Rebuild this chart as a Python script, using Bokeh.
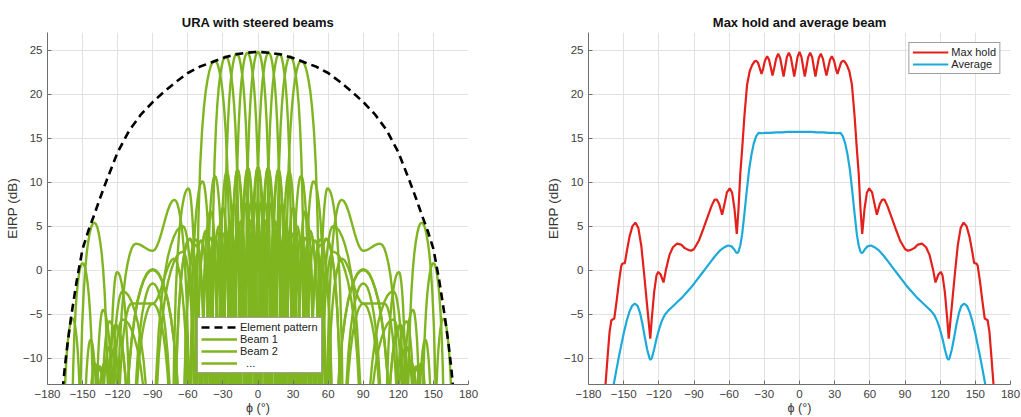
from bokeh.plotting import figure
from bokeh.layouts import row
from bokeh.models import Range1d, FixedTicker, Legend, LegendItem
from bokeh.embed import file_html
from bokeh.resources import INLINE

# ---------------- axes ----------------
X_TICKS = [-180, -150, -120, -90, -60, -30, 0, 30, 60, 90, 120, 150, 180]
Y_TICKS = [-10, -5, 0, 5, 10, 15, 20, 25]

# ---------------- left panel: element pattern (dB) ----------------
ELEM_PHI = [-168, -167, -165, -163, -160, -155, -150, -145, -140, -135, -130, -120, -110, -100,
            -90, -80, -70, -60, -50, -40, -30, -20, -10, 0, 10, 20, 30, 40, 50, 60, 70, 80, 90,
            100, 110, 120, 130, 135, 140, 145, 150, 155, 160, 163, 165, 167, 168]
ELEM_DB = [-15.0, -13.5, -10.8, -8.5, -5.5, -1.2, 2.4, 4.5, 6.3, 8.2, 10.0, 13.4, 15.9, 17.7,
           19.1, 20.3, 21.4, 22.4, 23.1, 23.6, 24.1, 24.5, 24.7, 24.8, 24.7, 24.5, 24.1, 23.6, 23.1,
           22.4, 21.4, 20.3, 19.1, 17.7, 15.9, 13.4, 10.0, 8.2, 6.3, 4.5, 2.4, -1.2, -5.5, -8.5,
           -10.8, -13.5, -15.0]

# ---------------- left panel: steered beams ----------------
# each lobe: (left null phi, peak phi, peak dB, right null phi[, dB at left end, dB at right end])
BEAM_STEER = [-37.0, -27.6, -18.2, -9.1, 0.0, 9.1, 18.2, 27.6, 37.0]
BEAM_0 = [
    (-143.1, -135.6, -11.2, -126.9), (-126.9, -115.8, -5.6, -90.0), (-90.0, -64.2, 2.1, -53.1),
    (-53.1, -44.4, 4.5, -36.9), (-36.9, -30.0, 7.1, -23.6), (-23.6, -17.5, 11.4, -10.6),
    (-10.6, 0.0, 24.8, 10.6), (10.6, 17.5, 11.4, 23.6), (23.6, 30.0, 7.1, 36.9),
    (36.9, 44.4, 4.5, 53.1), (53.1, 64.2, 2.1, 90.0), (90.0, 115.8, -5.6, 126.9),
    (126.9, 135.6, -11.2, 143.1),
]
BEAM_9 = [
    (-139.5, -131.4, -10.6, -121.8), (-121.8, -108.2, -3.8, -90.0, None, -3.8),
    (-90.0, -71.8, 1.3, -58.2, -3.8, None), (-58.2, -48.6, 3.4, -40.5), (-40.5, -33.4, 5.0, -26.7),
    (-26.7, -20.5, 7.5, -14.5), (-14.5, -8.6, 11.6, -1.8), (-1.8, 9.1, 24.7, 19.6),
    (19.6, 26.7, 11.2, 33.4), (33.4, 40.5, 6.7, 48.6), (48.6, 58.2, 3.6, 71.8),
    (71.8, 90.0, -3.8, 108.2), (108.2, 121.8, -6.4, 131.4), (131.4, 139.5, -10.6, 146.6),
]
BEAM_18 = [
    (-135.6, -126.9, -8.7, -115.8), (-115.8, -90.0, 0.1, -64.2), (-64.2, -53.1, 2.9, -44.4),
    (-44.4, -36.9, 3.8, -30.0), (-30.0, -23.6, 5.3, -17.5), (-17.5, -11.5, 7.6, -5.7),
    (-5.7, 0.0, 11.7, 7.0), (7.0, 18.2, 24.6, 29.0), (29.0, 36.9, 10.7, 44.4),
    (44.4, 53.1, 3.5, 64.2), (64.2, 90.0, 0.0, 115.8), (115.8, 126.9, -5.8, 135.6),
    (135.6, 143.1, -7.9, 150.0), (150.0, 158.5, -5.5, 168.0),
]
BEAM_28 = [
    (-131.4, -121.8, -6.2, -108.2), (-108.2, -90.0, -1.5, -71.8), (-71.8, -58.2, 3.5, -48.6),
    (-48.6, -40.5, 3.7, -33.4), (-33.4, -26.7, 4.3, -20.5), (-20.5, -14.5, 5.6, -8.6),
    (-8.6, -2.9, 7.7, 2.9), (2.9, 8.6, 11.6, 15.8), (15.8, 27.6, 24.3, 39.5),
    (39.5, 47.5, 10.1, 58.2), (58.2, 71.5, 8.0, 90.0, None, 2.2),
    (90.0, 104.5, 3.0, 121.8, 2.2, None), (121.8, 132.5, -4.5, 139.5), (139.5, 150.0, 0.8, 160.0),
]
BEAM_37 = [
    (-143.1, -135.6, -10.9, -126.9), (-126.9, -115.8, -2.4, -90.0), (-90.0, -64.2, 5.0, -53.1),
    (-53.1, -44.4, 4.4, -36.9), (-36.9, -30.0, 4.2, -23.6), (-23.6, -17.5, 4.6, -11.5),
    (-11.5, -5.7, 5.7, 0.0), (0.0, 5.7, 7.7, 11.5), (11.5, 17.5, 11.4, 23.6),
    (23.6, 37.0, 23.8, 52.5), (52.5, 59.5, 9.3, 73.0), (108.0, 120.5, -0.2, 127.3),
    (127.3, 140.0, 5.4, 153.0),
]
# lobe outline: drop below the lobe top vs. fraction of the way to its null
LOBE_FRAC = [0.0, 0.1, 0.2, 0.3, 0.4, 0.5, 0.6, 0.7, 0.8, 0.9, 0.95, 1.0]
LOBE_DROP = [0.0, -0.13, -0.5, -1.2, -2.2, -3.5, -5.4, -8.0, -11.8, -18.0, -24.0, -60.0]
LOBE_BLEND = [0.0, 0.024, 0.095, 0.206, 0.345, 0.5, 0.655, 0.794, 0.905, 0.976, 0.994, 1.0]

# ---------------- right panel ----------------
# left half (phi <= 0); the curves are symmetric about 0
MAX_PHI = [-168, -165.5, -163.5, -162, -160.5, -158, -156, -154, -152, -151, -149, -147.5, -145,
           -142.5, -140, -137.5, -135, -132.5, -130, -128, -127.3, -126, -124, -122, -120.5,
           -118.5, -116, -114, -111, -108, -104.5, -101, -98, -95, -92.5, -90, -86, -82, -78,
           -75, -72.5, -70.5, -68.5, -66, -64, -62, -59.5, -57.5, -55.5, -53.5, -52, -50.5, -49,
           -47, -44.7, -42.5, -40.4, -38.5, -37, -35.5, -33.8, -32.4, -31, -29.5, -27.6, -26,
           -24.3, -23, -21.5, -20, -18.2, -16.5, -14.8, -13.6, -12.3, -10.8, -9.1, -7.4, -5.8,
           -4.5, -3.2, -1.7, 0]
MAX_DB = [-17.0, -13.0, -9.5, -7.0, -5.7, -5.5, -3.5, -1.3, 0.5, 0.75, 0.8, 2.0, 3.8,
          5.0, 5.4, 4.8, 2.8, -0.5, -4.0, -6.8, -7.8, -5.5, -2.5, -0.6, -0.2,
          -0.5, -1.4, 0.0, 1.7, 2.6, 3.0, 2.9, 2.5, 2.3, 2.2, 2.4, 3.3, 4.7, 6.2,
          7.3, 8.0, 8.0, 7.5, 6.3, 7.5, 8.8, 9.3, 8.8, 7.0, 4.1, 7.0, 11.0, 13.6,
          17.5, 21.1, 22.6, 23.3, 23.7, 23.8, 23.6, 22.9, 22.3, 22.9, 23.8, 24.3, 23.9,
          22.9, 22.1, 23.0, 24.0, 24.6, 24.1, 22.9, 22.0, 23.0, 24.2, 24.7, 24.2, 23.0,
          22.0, 23.0, 24.2, 24.8]
AVG_PHI = [-160, -158.5, -156, -154, -152, -150, -147.5, -145, -143, -140.5, -138, -136, -134,
           -132, -130, -128, -127.2, -126, -124, -122, -120, -117.5, -115, -112, -108, -104,
           -100, -96, -92, -88, -84, -80, -76, -72, -68, -64, -61, -58, -56, -54, -53, -52,
           -50.5, -49, -47, -45, -43, -41, -39, -37, -35, -32, -29, -25, -20, -15, -10, -5, 0]
AVG_DB = [-14.5, -13.0, -11.2, -9.8, -8.5, -7.2, -5.8, -4.7, -4.1, -3.8, -4.1, -4.9, -6.1,
          -7.6, -9.0, -10.0, -10.2, -10.0, -9.0, -7.8, -6.8, -5.8, -5.1, -4.6, -4.1, -3.6,
          -3.1, -2.5, -1.9, -1.2, -0.5, 0.2, 0.9, 1.6, 2.2, 2.6, 2.8, 2.7, 2.4, 2.0, 1.95, 2.1,
          2.8, 4.0, 6.4, 9.0, 11.4, 13.1, 14.4, 15.2, 15.6, 15.55, 15.6, 15.6, 15.65, 15.65,
          15.7, 15.7, 15.7]

GREEN = "#7fb520"
RED = "#e3201b"
BLUE = "#1eaad9"
FONT = "Liberation Sans"


def lobe_points(lobe):
    a, c, pk, b = lobe[:4]
    qa = lobe[4] if len(lobe) > 4 else None
    qb = lobe[5] if len(lobe) > 5 else None
    xs, ys = [], []
    rows = list(zip(LOBE_FRAC, LOBE_DROP, LOBE_BLEND))
    for f, d, w in reversed(rows):
        xs.append(c - (c - a) * f)
        ys.append(pk + d if qa is None else pk + (qa - pk) * w)
    for f, d, w in rows[1:]:
        xs.append(c + (b - c) * f)
        ys.append(pk + d if qb is None else pk + (qb - pk) * w)
    return xs, ys


def beam_line(table):
    xs, ys = [], []
    for lobe in table:
        lx, ly = lobe_points(lobe)
        xs += lx
        ys += ly
    return xs, ys


def mirror_table(table):
    out = []
    for lobe in reversed(table):
        a, c, pk, b = lobe[:4]
        if len(lobe) > 4:
            out.append((-b, -c, pk, -a, lobe[5], lobe[4]))
        else:
            out.append((-b, -c, pk, -a))
    return out


def style(p, ylabel):
    p.title.text_font = FONT
    p.title.text_font_size = "13px"
    p.title.text_font_style = "bold"
    p.title.align = "center"
    p.title.text_color = "#111111"
    p.title.standoff = 5
    p.outline_line_color = None
    p.xaxis.ticker = FixedTicker(ticks=X_TICKS)
    p.yaxis.ticker = FixedTicker(ticks=Y_TICKS)
    for ax in (p.xaxis[0], p.yaxis[0]):
        ax.major_tick_in = 4
        ax.major_tick_out = 0
        ax.minor_tick_in = 0
        ax.minor_tick_out = 0
        ax.axis_line_color = "#6e6e6e"
        ax.major_tick_line_color = "#6e6e6e"
        ax.major_label_text_font = FONT
        ax.major_label_text_font_size = "11.5px"
        ax.major_label_text_color = "#404040"
    p.xaxis.major_label_standoff = 5
    p.yaxis.major_label_standoff = 5
    p.yaxis.axis_label = ylabel
    p.yaxis.axis_label_text_font = FONT
    p.yaxis.axis_label_text_font_size = "13.5px"
    p.yaxis.axis_label_text_font_style = "normal"
    p.yaxis.axis_label_text_color = "#333333"
    p.yaxis.axis_label_standoff = 0
    p.xaxis.axis_label = "ϕ (°)"
    p.xaxis.axis_label_text_font = FONT
    p.xaxis.axis_label_text_font_size = "12.5px"
    p.xaxis.axis_label_text_font_style = "normal"
    p.xaxis.axis_label_text_color = "#333333"
    p.xaxis.axis_label_standoff = 0
    p.xgrid.grid_line_color = "#e2e2e2"
    p.ygrid.grid_line_color = "#e2e2e2"


def make_fig(title, bl, fw, br):
    return figure(title=title, frame_width=fw, frame_height=352,
                  x_range=Range1d(-180, 180), y_range=Range1d(-13, 27),
                  min_border_left=bl, min_border_right=br, min_border_top=32,
                  min_border_bottom=32, output_backend="svg", toolbar_location=None,
                  background_fill_color="white", border_fill_color="white")


def legend_style(lg):
    lg.label_text_font = FONT
    lg.label_text_font_size = "11px"
    lg.label_text_color = "#222222"
    lg.glyph_width = 36
    lg.glyph_height = 12
    lg.label_height = 12
    lg.label_standoff = 3
    lg.padding = 3
    lg.spacing = 0
    lg.border_line_color = "#404040"
    lg.border_line_width = 1
    lg.background_fill_alpha = 1.0
    lg.margin = 0


# ---------------- left figure ----------------
p1 = make_fig("URA with steered beams", 47, 421, 42)
style(p1, "EIRP (dB)")

pos_tables = {0.0: BEAM_0, 9.1: BEAM_9, 18.2: BEAM_18, 27.6: BEAM_28, 37.0: BEAM_37}
beam_renderers = []
for s in BEAM_STEER:
    tbl = pos_tables[s] if s >= 0 else mirror_table(pos_tables[-s])
    bx, by = beam_line(tbl)
    beam_renderers.append(p1.line(bx, by, line_color=GREEN, line_width=2.4))

elem_r = p1.line(ELEM_PHI, ELEM_DB, line_color="black", line_width=2.6, line_dash="8 5")

leg1 = Legend(items=[LegendItem(label="Element pattern", renderers=[elem_r]),
                     LegendItem(label="Beam 1", renderers=[beam_renderers[0]]),
                     LegendItem(label="Beam 2", renderers=[beam_renderers[1]]),
                     LegendItem(label="\u00a0\u00a0...", renderers=[beam_renderers[2]])],
              location=(150, 11))
legend_style(leg1)
p1.add_layout(leg1)

# ---------------- right figure ----------------
p2 = make_fig("Max hold and average beam", 78, 422, 10)
style(p2, "EIRP (dB)")

mx = MAX_PHI + [-v for v in reversed(MAX_PHI[:-1])]
my = MAX_DB + list(reversed(MAX_DB[:-1]))
ax_ = AVG_PHI + [-v for v in reversed(AVG_PHI[:-1])]
ay = AVG_DB + list(reversed(AVG_DB[:-1]))
r_max = p2.line(mx, my, line_color=RED, line_width=2.2)
r_avg = p2.line(ax_, ay, line_color=BLUE, line_width=2.2)

leg2 = Legend(items=[LegendItem(label="Max hold", renderers=[r_max]),
                     LegendItem(label="Average", renderers=[r_avg])],
              location="top_right")
legend_style(leg2)
leg2.margin = 10
p2.add_layout(leg2)

layout = row(p1, p2)
open("out.html", "w").write(file_html(layout, INLINE))
